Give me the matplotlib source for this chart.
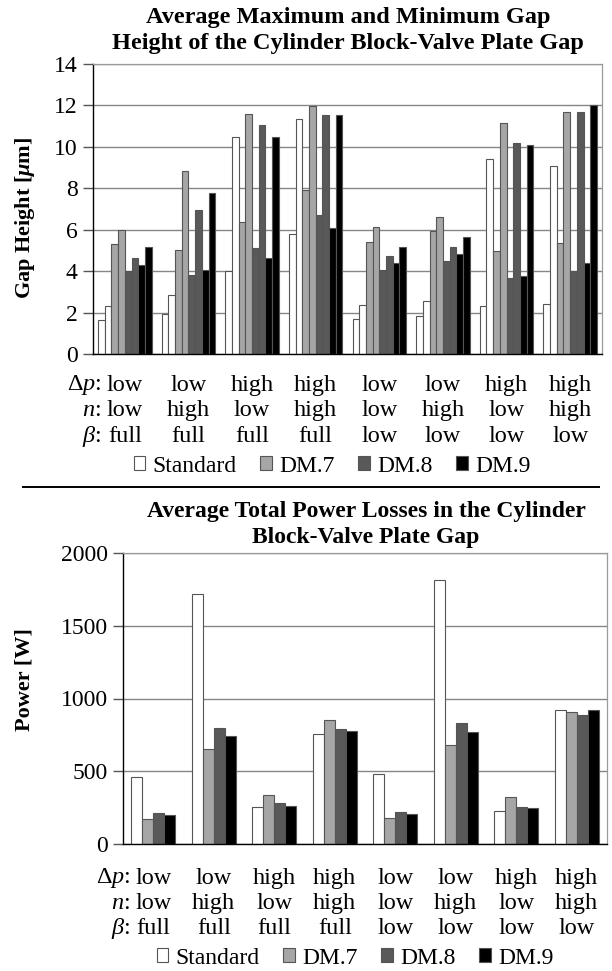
import matplotlib
matplotlib.use('Agg')
import numpy as np
import matplotlib.pyplot as plt
from matplotlib.patches import Patch
from matplotlib.lines import Line2D

plt.rcParams['font.family'] = ['Liberation Serif', 'DejaVu Serif']
plt.rcParams['mathtext.fontset'] = 'custom'
plt.rcParams['mathtext.rm'] = 'Liberation Serif'
plt.rcParams['mathtext.it'] = 'Liberation Serif:italic'
plt.rcParams['mathtext.bf'] = 'Liberation Serif:bold'
plt.rcParams['mathtext.bfit'] = 'Liberation Serif:italic:bold'

# operating conditions
dp_row = ['low', 'low', 'high', 'high', 'low', 'low', 'high', 'high']
n_row = ['low', 'high', 'low', 'high', 'low', 'high', 'low', 'high']
beta_row = ['full', 'full', 'full', 'full', 'low', 'low', 'low', 'low']

series_names = ['Standard', 'DM.7', 'DM.8', 'DM.9']
series_colors = ['#ffffff', '#a6a6a6', '#595959', '#000000']

# gap height [um], min / max per design
std_min = [1.66, 1.95, 4.03, 5.81, 1.69, 1.85, 2.33, 2.40]
std_max = [2.30, 2.83, 10.47, 11.34, 2.35, 2.54, 9.39, 9.07]
dm7_min = [5.33, 5.04, 6.38, 7.90, 5.39, 5.93, 4.96, 5.36]
dm7_max = [6.00, 8.82, 11.60, 11.98, 6.15, 6.63, 11.14, 11.66]
dm8_min = [4.03, 3.83, 5.14, 6.73, 4.04, 4.48, 3.66, 3.99]
dm8_max = [4.65, 6.94, 11.05, 11.53, 4.75, 5.15, 10.19, 11.66]
dm9_min = [4.28, 4.04, 4.64, 6.07, 4.38, 4.85, 3.75, 4.38]
dm9_max = [5.15, 7.78, 10.47, 11.55, 5.15, 5.64, 10.08, 12.04]

# total power losses [W]
std_power = [463, 1720, 252, 757, 482, 1817, 229, 922]
dm7_power = [172, 654, 337, 849, 181, 681, 321, 906]
dm8_power = [213, 796, 282, 787, 223, 830, 257, 888]
dm9_power = [197, 739, 264, 780, 209, 768, 250, 922]

W, H = 612, 971
fig = plt.figure(figsize=(W / 100, H / 100), dpi=100)


def px_axes(left, top, right, bottom):
    return fig.add_axes([left / W, 1 - bottom / H, (right - left) / W, (bottom - top) / H])


def style_axes(ax, ymax, ystep):
    ax.set_xlim(-0.5, 7.5)
    ax.set_ylim(0, ymax)
    ax.set_yticks(np.arange(0, ymax + 1e-9, ystep))
    ax.set_xticks([])
    ax.yaxis.grid(True, color='#868686', lw=1.0)
    ax.set_axisbelow(True)
    for s in ['top', 'right']:
        ax.spines[s].set_color('#9a9a9a')
        ax.spines[s].set_linewidth(0.9)
    for s in ['left', 'bottom']:
        ax.spines[s].set_color('black')
        ax.spines[s].set_linewidth(1.0)
    ax.tick_params(axis='y', length=7, width=1, color='#555555', labelsize=17, pad=4)


def cond_labels(ax, offsets, pre_dx):
    x = np.arange(8)
    rows = [dp_row, n_row, beta_row]
    prefixes = [r'$\Delta p$:', r'$n$:', r'$\beta$:']
    for row, pre, off in zip(rows, prefixes, offsets):
        for xi, lab in zip(x, row):
            ax.annotate(lab, xy=(xi, 0), xycoords=('data', 'axes fraction'),
                        xytext=(0, -off), textcoords='offset points',
                        ha='center', va='center', fontsize=17.5)
        ax.annotate(pre, xy=(0, 0), xycoords=('data', 'axes fraction'),
                    xytext=(pre_dx, -off), textcoords='offset points',
                    ha='right', va='center', fontsize=17.5)


def add_legend(cx, cy):
    handles = [Patch(facecolor=c, edgecolor='#555555', lw=0.8) for c in series_colors]
    fig.legend(handles, series_names, loc='center', bbox_to_anchor=(cx / W, 1 - cy / H),
               ncol=4, frameon=False, fontsize=17, handlelength=0.5, handleheight=0.5,
               handletextpad=0.3, columnspacing=1.0, borderpad=0, borderaxespad=0)


# top chart: gap height
ax1 = px_axes(93, 64, 602, 354)
style_axes(ax1, 14, 2)
x = np.arange(8)
w1 = 1 / 9.5
gap_series = [(std_min, std_max), (dm7_min, dm7_max), (dm8_min, dm8_max), (dm9_min, dm9_max)]
k = 0
for (lo, hi), col in zip(gap_series, series_colors):
    for vals in (lo, hi):
        ax1.bar(x + (k - 3.5) * w1, vals, w1, color=col, edgecolor='#555555', lw=0.8)
        k += 1
cond_labels(ax1, [22.5, 41, 59.5], -17)
fig.text(25 / W, 1 - 218 / H, r'Gap Height [$\mathbfit{\mu}$m]', rotation=90,
         ha='center', va='center', fontsize=16, fontweight='bold')
fig.text(348 / W, 1 - 18 / H, 'Average Maximum and Minimum Gap',
         ha='center', va='center', fontsize=17.5, fontweight='bold')
fig.text(348 / W, 1 - 44 / H, 'Height of the Cylinder Block-Valve Plate Gap',
         ha='center', va='center', fontsize=17.5, fontweight='bold')
add_legend(332, 466)

# separator
fig.add_artist(Line2D([23 / W, 599 / W], [1 - 487 / H, 1 - 487 / H], color='black', lw=1.4))

# bottom chart: power losses
ax2 = px_axes(123, 553, 607, 844)
style_axes(ax2, 2000, 500)
w2 = 1 / 5.5
for k, (vals, col) in enumerate(zip([std_power, dm7_power, dm8_power, dm9_power], series_colors)):
    ax2.bar(x + (k - 1.5) * w2, vals, w2, color=col, edgecolor='#555555', lw=0.8)
cond_labels(ax2, [24.5, 43, 61], -16.5)
fig.text(25 / W, 1 - 680 / H, 'Power [W]', rotation=90,
         ha='center', va='center', fontsize=16, fontweight='bold')
fig.text(366 / W, 1 - 511 / H, 'Average Total Power Losses in the Cylinder',
         ha='center', va='center', fontsize=17, fontweight='bold')
fig.text(366 / W, 1 - 537 / H, 'Block-Valve Plate Gap',
         ha='center', va='center', fontsize=17, fontweight='bold')
add_legend(355, 958)

fig.savefig('out.png', dpi=100)
